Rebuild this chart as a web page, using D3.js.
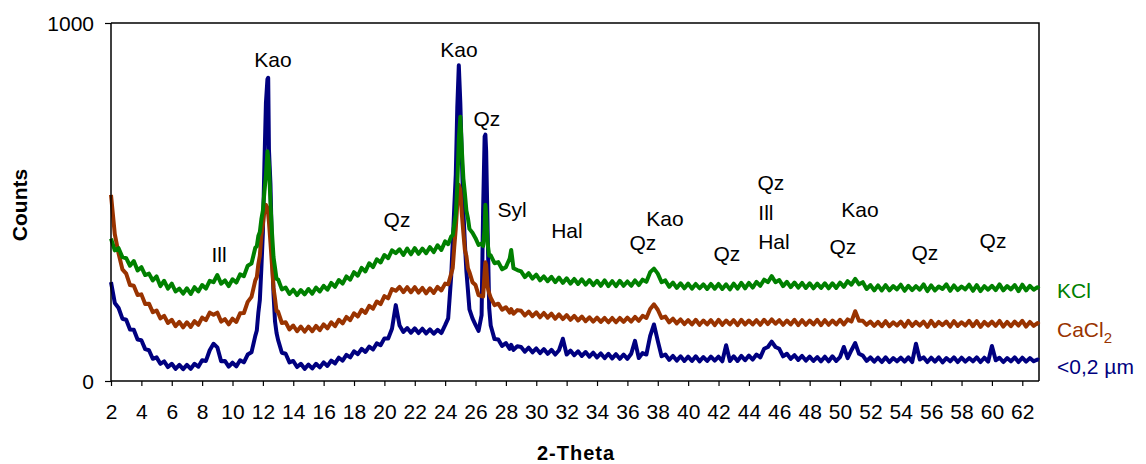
<!DOCTYPE html>
<html><head><meta charset="utf-8">
<script src="https://cdn.jsdelivr.net/npm/d3@7"></script>
<style>
body{margin:0;background:#fff}
svg{display:block}
text{font-family:"Liberation Sans",Arial,Helvetica,sans-serif;fill:#000}
</style>
</head><body>
<svg id="chart" width="1146" height="464"></svg>
<script>
// 2-Theta positions (degrees)
const angles = [
 2,2.25,2.5,2.75, 3,3.25,3.5,3.75, 4,4.25,4.5,4.75, 5,5.25,5.5,5.75,
 6,6.25,6.5,6.75, 7,7.25,7.5,7.75, 8,8.25,8.5,8.75, 9,9.25,9.5,9.75,
 10,10.25,10.5,10.75,
 11,11.25,11.5,11.6,11.7,11.8,11.9,
 12,12.1,12.2,12.3,12.35,12.4,12.5,12.6,12.7,12.8,12.9,
 13,13.25,13.5,13.75, 14,14.25,14.5,14.75, 15,15.25,15.5,15.75,
 16,16.25,16.5,16.75, 17,17.25,17.5,17.75, 18,18.25,18.5,18.75,
 19,19.25,19.5,19.75, 20,20.25,20.5,20.75, 21,21.25,21.5,21.75,
 22,22.25,22.5,22.75, 23,23.25,23.5,23.75,
 24,24.2,24.4,24.5,24.6,24.7,24.8,24.9,
 25,25.1,25.2,25.3,25.4,25.5,25.6,25.8,
 26,26.2,26.4,26.5,26.6,26.65,26.7,26.8,26.9,
 27,27.25,27.5,27.75,
 28,28.25,28.35,28.5,28.75,
 29,29.25,29.5,29.75, 30,30.25,30.5,30.75, 31,31.25,31.5,31.75,
 32,32.25,32.5,32.75, 33,33.25,33.5,33.75, 34,34.25,34.5,34.75,
 35,35.25,35.5,35.75, 36,36.25,36.5,36.75, 37,37.25,37.5,37.75,
 38,38.25,38.5,38.75, 39,39.25,39.5,39.75, 40,40.25,40.5,40.75,
 41,41.25,41.5,41.75, 42,42.25,42.5,42.75, 43,43.25,43.5,43.75,
 44,44.25,44.5,44.75, 45,45.25,45.5,45.75, 46,46.25,46.5,46.75,
 47,47.25,47.5,47.75, 48,48.25,48.5,48.75, 49,49.25,49.5,49.75,
 50,50.25,50.5,50.75, 51,51.25,51.5,51.75, 52,52.25,52.5,52.75,
 53,53.25,53.5,53.75, 54,54.25,54.5,54.75, 55,55.25,55.5,55.75,
 56,56.25,56.5,56.75, 57,57.25,57.5,57.75, 58,58.25,58.5,58.75,
 59,59.25,59.5,59.75, 60,60.25,60.5,60.75, 61,61.25,61.5,61.75,
 62,62.25,62.5,62.75,
 63,63.1
];

// KCl (green)
const kcl = [
 398,365,371,346, 343,322,335,309, 318,296,300,281, 292,265,280,258,
 272,250,258,244, 259,243,262,250, 268,258,280,276, 296,272,281,265,
 284,275,298,293,
 322,328,372,376,405,416,452,
 476,528,574,642,625,604,496,414,346,316,285,
 284,256,261,243, 255,240,254,242, 257,244,261,250,
 266,255,274,263, 282,272,292,283, 304,294,316,306,
 329,318,340,331, 352,343,365,357, 368,352,370,354,
 371,355,370,357, 374,360,379,366,
 390,382,404,407,436,466,545,676,
 738,645,566,524,476,455,425,414,
 399,380,384,377,425,492,466,384,350,
 351,329,332,312,
 318,342,366,315,310,
 306,290,301,286, 297,281,292,279, 291,276,289,274,
 287,272,285,271, 284,269,282,268, 280,266,281,265,
 279,265,280,266, 278,266,281,268, 283,277,304,314,
 300,276,281,263, 275,260,273,259, 272,258,271,259,
 270,257,271,258, 271,257,270,256, 272,258,274,259,
 274,261,277,266, 283,276,293,276, 282,265,277,262,
 275,261,274,260, 273,259,272,260, 273,259,273,260,
 275,263,279,269, 285,270,276,257, 268,253,267,253,
 268,253,265,256, 269,252,266,254, 265,255,270,251,
 267,253,264,257, 270,252,267,254, 264,256,269,252,
 268,251,265,255, 266,254,270,253, 265,256,268,251,
 269,253,266,255,
 262,258
];

// CaCl2 (brown)
const cacl2 = [
 520,410,356,312, 300,268,266,240, 242,215,216,192, 197,175,182,162,
 171,153,165,150, 164,151,167,157, 177,170,191,185, 191,166,173,158,
 174,165,189,190,
 221,235,281,290,326,350,405,
 436,476,492,484,466,444,386,324,260,230,195,
 194,162,164,144, 155,139,152,138, 152,139,154,142,
 158,147,164,153, 171,161,179,170, 189,180,199,190,
 210,202,222,215, 237,231,257,252, 263,248,262,248,
 262,247,260,245, 259,246,263,253,
 272,270,300,316,374,426,494,548,
 534,466,414,366,349,315,304,276,
 268,240,237,236,304,332,324,261,245,
 233,212,216,199,
 206,191,201,188,198,
 196,183,194,181, 192,178,190,177, 188,174,186,173,
 184,171,182,169, 180,167,178,166, 177,165,176,164,
 176,164,176,165, 177,166,179,168, 182,176,201,214,
 199,176,180,164, 174,161,172,159, 170,158,171,157,
 169,158,170,156, 171,157,169,158, 170,156,171,158,
 169,158,170,157, 171,159,172,160, 170,157,169,158,
 171,156,170,157, 169,158,171,156, 170,157,169,158,
 171,158,172,166, 195,168,168,157, 166,154,165,153,
 167,153,164,155, 166,152,168,154, 165,155,166,151,
 168,153,165,156, 166,152,167,154, 164,155,168,153,
 167,151,165,155, 166,154,168,152, 165,153,166,155,
 168,152,165,154,
 162,158
];

// <0,2 µm (navy)
const fine = [
 276,218,204,174, 171,144,143,116, 114,89,86,62, 66,48,55,39,
 48,34,45,33, 45,34,48,40, 58,56,86,104, 94,55,56,40,
 51,41,58,52,
 74,80,126,141,190,226,315,
 415,604,776,843,847,646,549,366,244,166,134,
 115,79,76,52, 56,39,48,34, 46,35,48,38,
 52,42,57,49, 65,57,73,66, 83,75,90,81,
 96,88,105,100, 119,119,146,212, 155,137,148,135,
 147,134,146,133, 144,132,143,134,
 156,175,294,386,484,576,764,882,
 776,624,476,384,306,254,200,175,
 157,140,184,476,683,688,643,416,204,
 155,117,116,98,
 106,90,101,87,97,
 95,82,93,80, 91,78,89,76, 87,74,86,118,
 74,85,72,83, 70,81,68,79, 66,77,64,76,
 63,75,62,74, 62,76,112,64, 78,74,126,158,
 112,69,74,59, 70,57,69,56, 68,56,69,55,
 67,56,68,57, 68,55,100,56, 69,56,70,58,
 71,60,74,66, 90,95,110,95, 90,69,76,62,
 72,59,70,57, 68,56,67,55, 68,55,69,56,
 67,95,64,86, 106,76,71,56, 66,54,65,53,
 66,53,64,55, 65,54,66,53, 104,60,66,53,
 65,54,66,52, 64,55,66,53, 65,54,64,55,
 66,53,65,54, 98,58,65,53, 64,55,66,53,
 65,54,64,55,
 60,58
];

const xTicks = [2,4,6,8,10,12,14,16,18,20,22,24,26,28,30,32,34,36,38,40,42,44,46,48,50,52,54,56,58,60,62];
const yTicks = [0,1000];

const seriesNames = ["KCl","CaCl2","<0,2 µm"];
const seriesColors = ["#008000","#993300","#000080"];

// peak labels: text, 2-Theta, counts
const peakText   = ["Ill","Kao","Qz","Kao","Qz","Syl","Hal","Qz","Kao","Qz","Qz","Ill","Hal","Qz","Kao","Qz","Qz"];
const peakAngle  = [9.11,12.66,20.83,24.91,26.75,28.40,32.02,37.02,38.47,42.55,45.45,45.12,45.65,50.19,51.31,55.59,60.07];
const peakCounts = [352,897,450,925,732,478,419,386,453,355,554,470,389,375,478,358,391];

if (kcl.length!==angles.length||cacl2.length!==angles.length||fine.length!==angles.length)
  console.error("length mismatch", angles.length, kcl.length, cacl2.length, fine.length);

const svg = d3.select("#chart");
const x = d3.scaleLinear().domain([2,63.1]).range([111,1039]);
const y = d3.scaleLinear().domain([0,1000]).range([381,23]);
const FS = 21;

// frame (top & right)
svg.append("path")
  .attr("d",`M${x(2)},${y(1000)}H${x(63.1)}V${y(0)}`)
  .attr("fill","none").attr("stroke","#000").attr("stroke-width",1.5);

// series
const line = d3.line().x(d=>x(d[0])).y(d=>y(d[1]));
const data = [kcl,cacl2,fine];
[2,1,0].forEach(i=>{
  svg.append("path")
    .datum(angles.map((a,k)=>[a,data[i][k]]))
    .attr("d",line)
    .attr("fill","none")
    .attr("stroke",seriesColors[i])
    .attr("stroke-width",4)
    .attr("stroke-linejoin","round");
});

// axes
const xAxis = svg.append("g").attr("transform",`translate(0,${y(0)})`)
  .call(d3.axisBottom(x).tickValues(xTicks).tickSize(5).tickSizeOuter(0).tickFormat(d3.format("d")));
xAxis.select(".domain").attr("stroke","#000").attr("stroke-width",1.5).attr("d",`M${x(2)},0H${x(63.1)}`);
xAxis.selectAll(".tick line").attr("stroke","#000").attr("stroke-width",1.2);
xAxis.selectAll(".tick text").attr("y",38).attr("dy",null)
  .style("font-size",FS+"px").attr("fill","#000");

const yAxis = svg.append("g").attr("transform",`translate(${x(2)},0)`)
  .call(d3.axisLeft(y).tickValues(yTicks).tickSize(6).tickSizeOuter(0).tickFormat(d3.format("d")));
yAxis.select(".domain").attr("stroke","#000").attr("stroke-width",1.5).attr("d",`M0,${y(0)}V${y(1000)}`);
yAxis.selectAll(".tick line").attr("stroke","#000").attr("stroke-width",1.2);
yAxis.selectAll(".tick text").attr("x",-17).attr("dy","0.35em")
  .style("font-size",FS+"px").attr("fill","#000");
svg.selectAll(".tick text").style("font-family",'"Liberation Sans",Arial,sans-serif');

// axis titles
svg.append("text").attr("x",576).attr("y",460).attr("text-anchor","middle")
  .style("font-size","20px").style("font-weight","bold").style("letter-spacing","1px").text("2-Theta");
svg.append("text").attr("transform","translate(27,205) rotate(-90)").attr("text-anchor","middle")
  .style("font-size",FS+"px").style("font-weight","bold").text("Counts");

// peak labels
svg.append("g").selectAll("text").data(peakText).join("text")
  .attr("x",(d,i)=>x(peakAngle[i]))
  .attr("y",(d,i)=>y(peakCounts[i]))
  .attr("dy","0.35em").attr("text-anchor","middle")
  .style("font-size",FS+"px").text(d=>d);

// series labels
const lab = svg.append("g").style("font-size",FS+"px");
lab.append("text").attr("x",1057).attr("y",297.5).style("fill",seriesColors[0]).text(seriesNames[0]);
const t2 = lab.append("text").attr("x",1057).attr("y",337).style("fill",seriesColors[1]);
t2.append("tspan").text("CaCl");
t2.append("tspan").attr("dy",6).style("font-size","15px").text("2");
lab.append("text").attr("x",1057).attr("y",374).style("fill",seriesColors[2]).text(seriesNames[2]);
</script>
</body></html>
